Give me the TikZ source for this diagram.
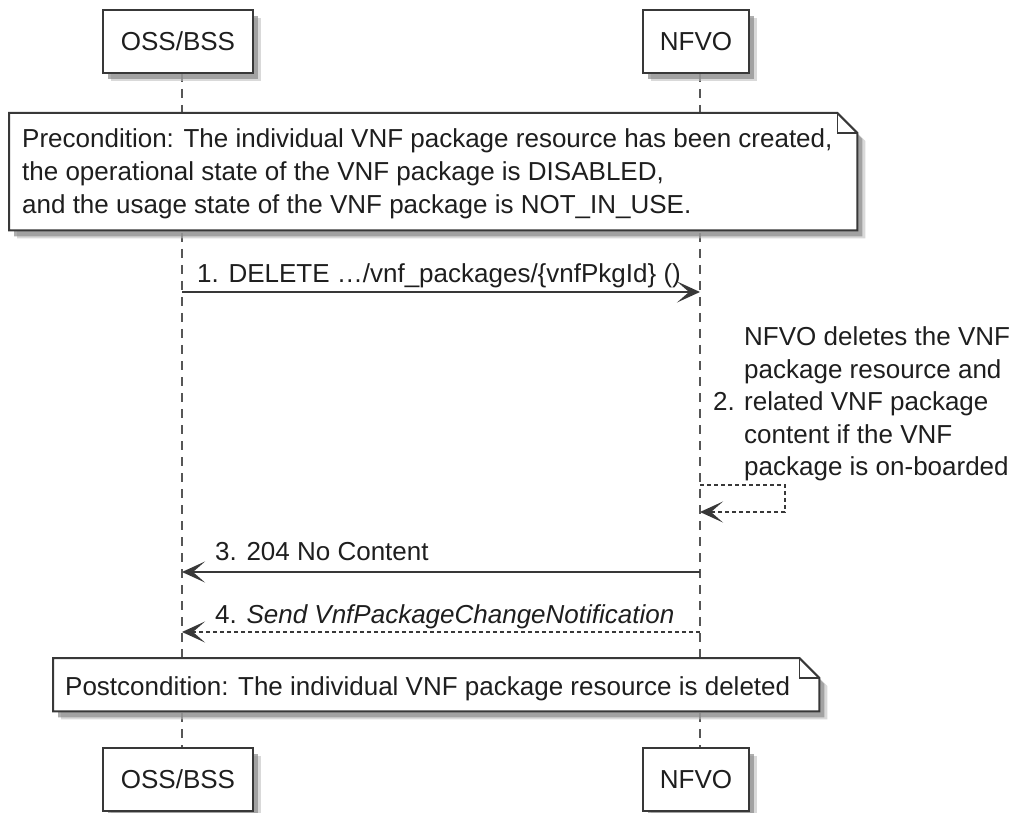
\documentclass[tikz,border=0pt]{standalone}
\usepackage{fontspec}
\setmainfont{Liberation Sans}
\usetikzlibrary{arrows.meta,shadows,calc}
\definecolor{ln}{HTML}{383838}
\definecolor{tx}{HTML}{1E1E1E}
\tikzset{
 shad/.style={
   drop shadow={shadow xshift=8pt, shadow yshift=-8pt, fill=black!25, opacity=0.6},
   drop shadow={shadow xshift=5pt, shadow yshift=-6pt, fill=black!45, opacity=0.7}},
 actor/.style={draw=ln, line width=2pt, fill=white, shad, minimum height=63pt, inner sep=0pt, font=\fontsize{26}{31}\selectfont, text=tx},
 lifeline/.style={draw=ln!85, line width=1.5pt, dash pattern=on 9pt off 7pt},
 msg/.style={draw=ln, line width=1.8pt, -{Stealth[length=23pt,width=21pt,inset=12pt]}},
 reply/.style={msg, line width=1.5pt, dash pattern=on 4pt off 3pt},
 lbl/.style={anchor=base west, inner sep=0pt, font=\fontsize{26}{31}\selectfont, text=tx},
 notearea/.style={anchor=north west, inner sep=0pt},
 notebox/.style={draw=ln, line width=2pt, fill=white, shad},
}
\begin{document}
\begin{tikzpicture}[x=1pt, y=-1pt]
\useasboundingbox (0,0) rectangle (1013,813);
% lifelines
\coordinate (oT) at (182,73);
\coordinate (oB) at (182,747);
\coordinate (nT) at (700,73);
\coordinate (nB) at (700,747);
\draw[lifeline] (oT) -- (oB);
\draw[lifeline] (nT) -- (nB);
% participants
\node[actor, minimum width=150pt] (ossTop) at (178,41.5) {OSS/BSS};
\node[actor, minimum width=106pt] (nfvoTop) at (696,41.5) {NFVO};
\node[actor, minimum width=150pt] (ossBot) at (178,779.5) {OSS/BSS};
\node[actor, minimum width=106pt] (nfvoBot) at (696,779.5) {NFVO};
% precondition note
\node[notearea, minimum width=848pt, minimum height=117pt] (pre) at (9,113) {};
\path[notebox] (pre.north west) -- ($(pre.north east)+(-20pt,0)$) -- ($(pre.north east)+(0,-20pt)$) -- (pre.south east) -- (pre.south west) -- cycle;
\draw[draw=ln, line width=1.5pt] ($(pre.north east)+(-20pt,0)$) -- ($(pre.north east)+(-20pt,-20pt)$) -- ($(pre.north east)+(0,-20pt)$);
\node[lbl] (pre1) at (22,148) {Precondition: The individual VNF package resource has been created,};
\node[lbl] (pre2) at (22,181) {the operational state of the VNF package is DISABLED,};
\node[lbl] (pre3) at (22,214) {and the usage state of the VNF package is NOT\_IN\_USE.};
% message 1
\coordinate (m1a) at (182,292);
\coordinate (m1b) at (700,292);
\draw[msg] (m1a) -- (m1b);
\node[lbl] (l1) at (197,283) {1. DELETE …/vnf\_packages/\{vnfPkgId\} ()};
% self message 2
\coordinate (m2a) at (700,485);
\coordinate (m2r1) at (785,485);
\coordinate (m2r2) at (785,512);
\coordinate (m2b) at (700,512);
\draw[reply] (m2a) -- (m2r1) -- (m2r2) -- (m2b);
\node[lbl] (l2n) at (713,410) {2.};
\node[lbl] (l2a) at (744,345) {NFVO deletes the VNF};
\node[lbl] (l2b) at (744,378) {package resource and};
\node[lbl] (l2c) at (744,410) {related VNF package};
\node[lbl] (l2d) at (744,443) {content if the VNF};
\node[lbl] (l2e) at (744,475) {package is on-boarded};
% message 3
\coordinate (m3a) at (700,572);
\coordinate (m3b) at (182,572);
\draw[msg] (m3a) -- (m3b);
\node[lbl] (l3) at (215,560) {3. 204 No Content};
% message 4
\coordinate (m4a) at (700,632);
\coordinate (m4b) at (182,632);
\draw[reply] (m4a) -- (m4b);
\node[lbl] (l4) at (215,623) {4. \textit{Send VnfPackageChangeNotification}};
% postcondition note
\node[notearea, minimum width=766pt, minimum height=53pt] (post) at (53,658) {};
\path[notebox] (post.north west) -- ($(post.north east)+(-20pt,0)$) -- ($(post.north east)+(0,-20pt)$) -- (post.south east) -- (post.south west) -- cycle;
\draw[draw=ln, line width=1.5pt] ($(post.north east)+(-20pt,0)$) -- ($(post.north east)+(-20pt,-20pt)$) -- ($(post.north east)+(0,-20pt)$);
\node[lbl] (post1) at (65,695) {Postcondition: The individual VNF package resource is deleted};
\end{tikzpicture}
\end{document}
